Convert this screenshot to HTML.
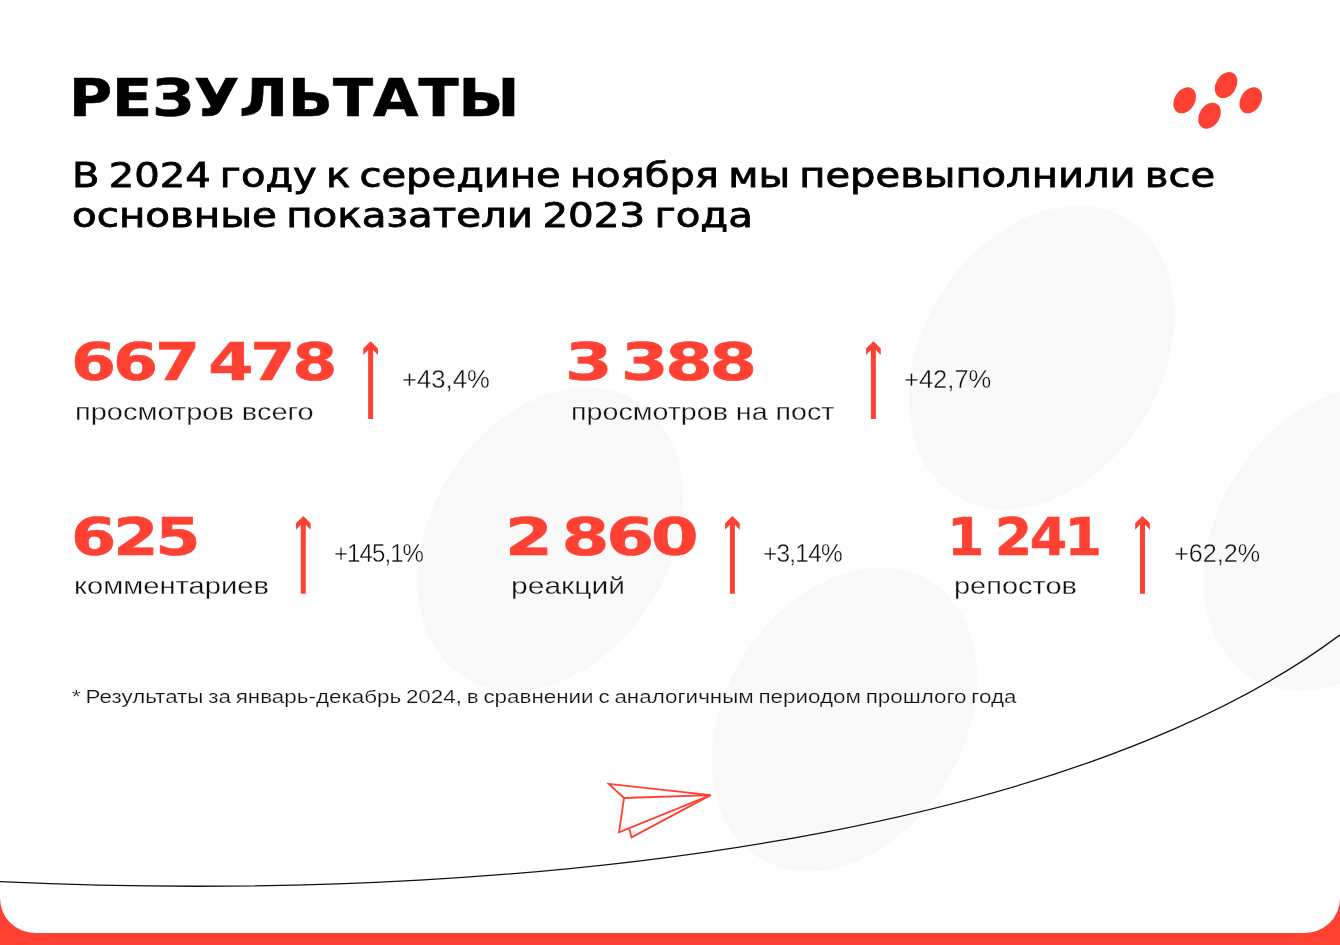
<!DOCTYPE html>
<html lang="ru"><head><meta charset="utf-8"><title>Результаты</title>
<style>
html,body{margin:0;padding:0;}
body{width:1340px;height:945px;background:#ff4133;overflow:hidden;position:relative;}
.slide{position:absolute;left:0;top:0;width:1340px;height:933px;background:#fff;border-radius:0 0 35px 35px;overflow:hidden;}
.bg,.arrow{position:absolute;left:0;top:0;display:block;}
.t{position:absolute;white-space:nowrap;transform-origin:0 0;margin:0;padding:0;}
</style></head><body>
<main class="slide">
<svg class="bg" width="1340" height="945" viewBox="0 0 1340 945"><g fill="#f9f9f9"><ellipse cx="550.3" cy="539.2" rx="119.2" ry="162.8" transform="rotate(32 550.3 539.2)"/><ellipse cx="1041.5" cy="357.7" rx="119.2" ry="162.8" transform="rotate(32 1041.5 357.7)"/><ellipse cx="844.4" cy="719.5" rx="119.2" ry="162.8" transform="rotate(32 844.4 719.5)"/><ellipse cx="1336.4" cy="538.8" rx="119.2" ry="162.8" transform="rotate(32 1336.4 538.8)"/></g>
<g fill="#ff4133"><ellipse cx="1184.65" cy="100.35" rx="10.2" ry="13.9" transform="rotate(32 1184.65 100.35)"/><ellipse cx="1226.1" cy="85.1" rx="10.2" ry="13.9" transform="rotate(32 1226.1 85.1)"/><ellipse cx="1209.55" cy="115.7" rx="10.2" ry="13.9" transform="rotate(32 1209.55 115.7)"/><ellipse cx="1250.75" cy="100.35" rx="10.2" ry="13.9" transform="rotate(32 1250.75 100.35)"/></g>
<path d="M-5 881.47 L0 881.7 C547.5 906.9 1183.9 830.4 1421.4 560.6" fill="none" stroke="#111" stroke-width="1.3"/>
<g fill="none" stroke="#ff4133" stroke-width="1.8" stroke-linejoin="miter"><path d="M608.8 783.9 L710.6 795.1 L624 798 Z"/><path d="M624 798 L619 832.3 L710.6 795.1"/><path d="M629.2 828.5 L631.5 837.4 L710.6 795.1"/></g></svg>
<header>
<h1 class="t " id="title" style="left:69.42px;top:67.70px;font:700 51.0px/1.2 'DejaVu Sans', 'Liberation Sans', sans-serif;color:#000;transform:scaleX(1.1525);-webkit-text-stroke:0.6px #000;">РЕЗУЛЬТАТЫ</h1>
<p class="lead">
<span class="t " id="sub1" style="left:71.56px;top:156.20px;font:400 33.9px/1.2 'DejaVu Sans', 'Liberation Sans', sans-serif;color:#000;transform:scaleX(1.1822);word-spacing:-3.00px;-webkit-text-stroke:0.8px #000;">В 2024 году к середине ноября мы перевыполнили все</span>
<span class="t " id="sub2" style="left:71.74px;top:196.30px;font:400 33.9px/1.2 'DejaVu Sans', 'Liberation Sans', sans-serif;color:#000;transform:scaleX(1.1916);word-spacing:-3.00px;-webkit-text-stroke:0.8px #000;">основные показатели 2023 года</span>
</p>
</header>
<section class="stats">
<article class="stat">
<div class="t " id="n1" style="left:70.84px;top:331.60px;font:700 51.3px/1.2 'DejaVu Sans', 'Liberation Sans', sans-serif;color:#ff4133;transform:scaleX(1.2651);word-spacing:-6.49px;letter-spacing:-2.5px;-webkit-text-stroke:0.6px #ff4133;">667 478</div>
<div class="t " id="l1" style="left:75.08px;top:396.80px;font:400 24.6px/1.2 'Liberation Sans', sans-serif;color:#111;transform:scaleX(1.1789);-webkit-text-stroke:0.3px #fff;">просмотров всего</div>
<svg class="arrow" style="left:361px;top:337px" width="20" height="86" viewBox="0 0 20 86"><path d="M9.60 4.20 L16.95 11.55 V17.95 L12.08 13.08 V82.10 H7.12 V13.08 L2.25 17.95 V11.55 Z" fill="#ff4133"/></svg>
<div class="t " id="p1" style="left:401.56px;top:363.80px;font:400 25.8px/1.2 'Liberation Sans', sans-serif;color:#111;transform:scaleX(0.9953);-webkit-text-stroke:0.35px #fff;">+43,4%</div>
</article>
<article class="stat">
<div class="t " id="n2" style="left:565.25px;top:331.60px;font:700 51.3px/1.2 'DejaVu Sans', 'Liberation Sans', sans-serif;color:#ff4133;transform:scaleX(1.3335);word-spacing:-6.58px;letter-spacing:-2.5px;-webkit-text-stroke:0.6px #ff4133;">3 388</div>
<div class="t " id="l2" style="left:570.72px;top:396.80px;font:400 24.6px/1.2 'Liberation Sans', sans-serif;color:#111;transform:scaleX(1.1649);-webkit-text-stroke:0.3px #fff;">просмотров на пост</div>
<svg class="arrow" style="left:863px;top:337px" width="20" height="86" viewBox="0 0 20 86"><path d="M10.40 4.20 L17.75 11.55 V17.95 L12.88 13.08 V82.10 H7.92 V13.08 L3.05 17.95 V11.55 Z" fill="#ff4133"/></svg>
<div class="t " id="p2" style="left:904.07px;top:363.80px;font:400 25.8px/1.2 'Liberation Sans', sans-serif;color:#111;transform:scaleX(0.9898);-webkit-text-stroke:0.35px #fff;">+42,7%</div>
</article>
<article class="stat">
<div class="t " id="n3" style="left:70.84px;top:506.60px;font:700 51.3px/1.2 'DejaVu Sans', 'Liberation Sans', sans-serif;color:#ff4133;transform:scaleX(1.2695);letter-spacing:-2.5px;-webkit-text-stroke:0.6px #ff4133;">625</div>
<div class="t " id="l3" style="left:74.45px;top:570.50px;font:400 24.6px/1.2 'Liberation Sans', sans-serif;color:#111;transform:scaleX(1.1842);-webkit-text-stroke:0.3px #fff;">комментариев</div>
<svg class="arrow" style="left:293px;top:512px" width="20" height="86" viewBox="0 0 20 86"><path d="M10.30 3.90 L17.65 11.25 V17.65 L12.78 12.78 V81.80 H7.82 V12.78 L2.95 17.65 V11.25 Z" fill="#ff4133"/></svg>
<div class="t " id="p3" style="left:334.40px;top:538.00px;font:400 25.8px/1.2 'Liberation Sans', sans-serif;color:#111;transform:scaleX(0.9315);letter-spacing:-1.0px;-webkit-text-stroke:0.35px #fff;">+145,1%</div>
</article>
<article class="stat">
<div class="t " id="n4" style="left:505.07px;top:506.60px;font:700 51.3px/1.2 'DejaVu Sans', 'Liberation Sans', sans-serif;color:#ff4133;transform:scaleX(1.3429);word-spacing:-6.44px;letter-spacing:-2.5px;-webkit-text-stroke:0.6px #ff4133;">2 860</div>
<div class="t " id="l4" style="left:510.69px;top:570.50px;font:400 24.6px/1.2 'Liberation Sans', sans-serif;color:#111;transform:scaleX(1.2211);-webkit-text-stroke:0.3px #fff;">реакций</div>
<svg class="arrow" style="left:722px;top:512px" width="20" height="86" viewBox="0 0 20 86"><path d="M10.40 3.90 L17.75 11.25 V17.65 L12.88 12.78 V81.80 H7.92 V12.78 L3.05 17.65 V11.25 Z" fill="#ff4133"/></svg>
<div class="t " id="p4" style="left:763.26px;top:538.00px;font:400 25.8px/1.2 'Liberation Sans', sans-serif;color:#111;transform:scaleX(0.9464);letter-spacing:-0.8px;-webkit-text-stroke:0.35px #fff;">+3,14%</div>
</article>
<article class="stat">
<div class="t " id="n5" style="left:946.98px;top:506.60px;font:700 51.3px/1.2 'DejaVu Sans', 'Liberation Sans', sans-serif;color:#ff4133;transform:scaleX(1.0494);word-spacing:-2.94px;letter-spacing:-2.5px;-webkit-text-stroke:0.6px #ff4133;">1 241</div>
<div class="t " id="l5" style="left:954.22px;top:570.50px;font:400 24.6px/1.2 'Liberation Sans', sans-serif;color:#111;transform:scaleX(1.1773);-webkit-text-stroke:0.3px #fff;">репостов</div>
<svg class="arrow" style="left:1132px;top:512px" width="20" height="86" viewBox="0 0 20 86"><path d="M10.50 3.90 L17.85 11.25 V17.65 L12.98 12.78 V81.80 H8.02 V12.78 L3.15 17.65 V11.25 Z" fill="#ff4133"/></svg>
<div class="t " id="p5" style="left:1173.59px;top:538.00px;font:400 25.8px/1.2 'Liberation Sans', sans-serif;color:#111;transform:scaleX(0.9768);-webkit-text-stroke:0.35px #fff;">+62,2%</div>
</article>
</section>
<footer>
<p class="t " id="foot" style="left:72.45px;top:685.80px;font:400 18.7px/1.2 'Liberation Sans', sans-serif;color:#111;transform:scaleX(1.1984);word-spacing:-1.20px;-webkit-text-stroke:0.2px #fff;">* Результаты за январь-декабрь 2024, в сравнении с аналогичным периодом прошлого года</p>
</footer>
</main>
</body></html>
